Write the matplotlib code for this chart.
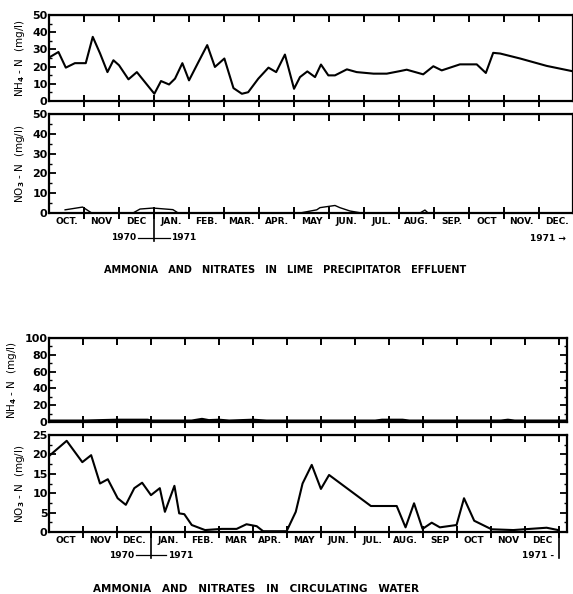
import matplotlib
matplotlib.use("Agg")
import matplotlib.pyplot as plt
import numpy as np

plt.rcParams['font.family'] = ['DejaVu Sans']
plt.rcParams['font.weight'] = 'bold'

W, H = 573, 594

# ---- data (months since 1 Oct 1970) ----
lime_nh4_t = [0.03, 0.27, 0.48, 0.74, 1.05, 1.25, 1.46, 1.67, 1.84, 2.0, 2.27, 2.51, 2.74,
              3.01, 3.2, 3.43, 3.6, 3.81, 4.0, 4.27, 4.52, 4.74, 5.01, 5.27, 5.51, 5.69,
              5.98, 6.27, 6.49, 6.74, 7.0, 7.17, 7.38, 7.6, 7.77, 7.98, 8.17, 8.51, 8.79,
              9.27, 9.65, 10.03, 10.22, 10.69, 10.98, 11.22, 11.74, 12.22, 12.48, 12.69,
              12.89, 13.46, 14.22, 14.96]
lime_nh4 = [25.6, 28.5, 19.4, 22, 22, 37.3, 27.6, 16.8, 23.7, 20.8, 12.6, 16.8, 11,
            4.2, 11.6, 9.6, 13, 22, 12, 22.7, 32.5, 19.8, 24.7, 7.5, 4.2, 5.1,
            13, 19.4, 16.8, 27, 7.1, 13.9, 17.2, 13.9, 21.2, 14.9, 14.9, 18.4, 16.8,
            15.9, 15.9, 17.4, 18.2, 15.5, 20.2, 17.8, 21.3, 21.3, 16.3, 28,
            27.6, 24.7, 20.4, 17.3]

lime_no3_t = [0.46, 0.96, 1.22, 2.4, 2.6, 2.97, 3.54, 3.69, 7.17, 7.65, 7.74, 8.17, 8.31,
              8.6, 8.93, 10.6, 10.74, 10.83, 14.95]
lime_no3 = [1.6, 3, 0, 0, 2, 2.5, 1.7, 0, 0, 1.6, 2.7, 3.8, 2.7, 1, 0, 0, 1.5, 0, 0]

circ_nh4_t = [0.0, 1.0, 2.0, 2.9, 3.0, 4.2, 4.5, 4.7, 5.0, 5.3, 6.0, 6.4, 9.6, 9.8,
              10.4, 10.6, 13.3, 13.5, 13.7, 15.2]
circ_nh4 = [0.5, 0.5, 1.5, 1.5, 0.5, 0.5, 2.5, 1, 1.5, 0.5, 1.5, 0.5, 0.5, 1.5,
            1.5, 0.5, 0.5, 1.5, 0.5, 0.5]

circ_no3_t = [0.03, 0.52, 0.98, 1.24, 1.5, 1.73, 2.02, 2.26, 2.51, 2.74, 3.0, 3.26, 3.41,
              3.69, 3.83, 3.98, 4.2, 4.59, 5.08, 5.52, 5.81, 6.11, 6.3, 6.99, 7.26, 7.46,
              7.73, 8.0, 8.24, 9.47, 10.23, 10.49, 10.74, 10.99, 11.26, 11.5, 11.99,
              12.21, 12.51, 13.02, 13.66, 14.64, 14.98]
circ_no3 = [19.8, 23.5, 18, 19.8, 12.5, 13.6, 8.7, 7, 11.3, 12.7, 9.5, 11.3, 5.2,
            11.9, 4.8, 4.6, 1.8, 0.5, 0.8, 0.8, 2, 1.5, 0.2, 0.2, 5.2, 12.5,
            17.3, 11.1, 14.7, 6.7, 6.7, 1.2, 7.4, 0.8, 2.4, 1.2, 1.8,
            8.7, 2.9, 0.7, 0.5, 1.1, 0.5]

months_top = ["OCT.", "NOV", "DEC", "JAN.", "FEB.", "MAR.", "APR.", "MAY", "JUN.",
              "JUL.", "AUG.", "SEP.", "OCT", "NOV.", "DEC."]
months_bot = ["OCT", "NOV", "DEC.", "JAN.", "FEB.", "MAR", "APR.", "MAY", "JUN.",
              "JUL.", "AUG.", "SEP", "OCT", "NOV", "DEC"]

title_top = "AMMONIA   AND   NITRATES   IN   LIME   PRECIPITATOR   EFFLUENT"
title_bot = "AMMONIA   AND   NITRATES   IN   CIRCULATING   WATER"


def box(x0, y0, x1, y1):
    # pixel box (top-left origin) -> figure fraction rect
    return [x0 / W, 1 - y1 / H, (x1 - x0) / W, (y1 - y0) / H]


fig = plt.figure(figsize=(W / 100, H / 100), dpi=100)

FS = 6.5


def style(ax, xmax, ymax, ystep, labels=None, right=False, ylabel=""):
    ax.set_xlim(0, xmax)
    ax.set_ylim(0, ymax)
    for s in ax.spines.values():
        s.set_linewidth(1.6)
    ax.set_xticks(np.arange(1, int(xmax) + 1))
    ax.tick_params(axis='x', which='major', direction='inout', length=9, width=1.4,
                   labelbottom=False)
    ax.set_yticks(np.arange(0, ymax + 1, ystep))
    ax.set_yticks(np.arange(ystep / 2, ymax, ystep), minor=True)
    ax.tick_params(axis='y', which='major', direction='in', length=5, width=1.3,
                   labelsize=FS + 1.5, pad=1, right=right)
    ax.tick_params(axis='y', which='minor', direction='in', length=2, width=1,
                   right=right)
    sec = ax.secondary_xaxis('top')
    sec.set_xticks(np.arange(1, int(xmax) + 1))
    sec.tick_params(direction='in', length=5, width=1.4, labeltop=False)
    if labels is not None:
        ax.set_xticks(np.arange(len(labels)) + 0.5, minor=True)
        ax.set_xticklabels(labels, minor=True)
        ax.tick_params(axis='x', which='minor', length=0, labelsize=FS, pad=3)
    ax.set_ylabel(ylabel, fontsize=FS + 1, labelpad=4)


def years(ax, yfrac):
    tr = ax.get_xaxis_transform()
    ax.plot([3, 3], [0, yfrac - 0.03], transform=tr, color='black', lw=1.2, clip_on=False)
    ax.plot([2.55, 3.45], [yfrac, yfrac], transform=tr, color='black', lw=0.9,
            clip_on=False)
    ax.text(2.5, yfrac, "1970", transform=tr, fontsize=FS, ha='right', va='center')
    ax.text(3.5, yfrac, "1971", transform=tr, fontsize=FS, ha='left', va='center')


# ---- lime precipitator effluent ----
ax1 = fig.add_axes(box(49, 15, 573, 101))
ax1.plot(lime_nh4_t, lime_nh4, color='black', lw=1.5)
style(ax1, 14.97, 50, 10, ylabel="NH$_4$ - N  (mg/l)")

ax2 = fig.add_axes(box(49, 114, 573, 213))
ax2.plot(lime_no3_t, lime_no3, color='black', lw=1.0)
style(ax2, 14.97, 50, 10, labels=months_top, ylabel="NO$_3$ - N  (mg/l)")
years(ax2, -0.25)
fig.text(566 / W, 1 - 238 / H, "1971 \u2192", fontsize=FS, ha='right', va='center')
fig.text(285 / W, 1 - 270 / H, title_top, fontsize=7, ha='center', va='center')

# ---- circulating water ----
ax3 = fig.add_axes(box(49, 338, 567, 422))
ax3.plot(circ_nh4_t, circ_nh4, color='black', lw=3)
style(ax3, 15.24, 100, 20, right=True, ylabel="NH$_4$ - N  (mg/l)")

ax4 = fig.add_axes(box(49, 435, 567, 532))
ax4.plot(circ_no3_t, circ_no3, color='black', lw=1.5)
style(ax4, 15.24, 25, 5, labels=months_bot, right=True, ylabel="NO$_3$ - N  (mg/l)")
years(ax4, -0.24)
ax4.plot([15, 15], [0, -0.27], transform=ax4.get_xaxis_transform(), color='black',
         lw=1.2, clip_on=False)
ax4.text(14.85, -0.24, "1971 -", transform=ax4.get_xaxis_transform(), fontsize=FS,
         ha='right', va='center')
fig.text(256 / W, 1 - 589 / H, title_bot, fontsize=7.5, ha='center', va='center')

fig.savefig("out.png", dpi=100)
